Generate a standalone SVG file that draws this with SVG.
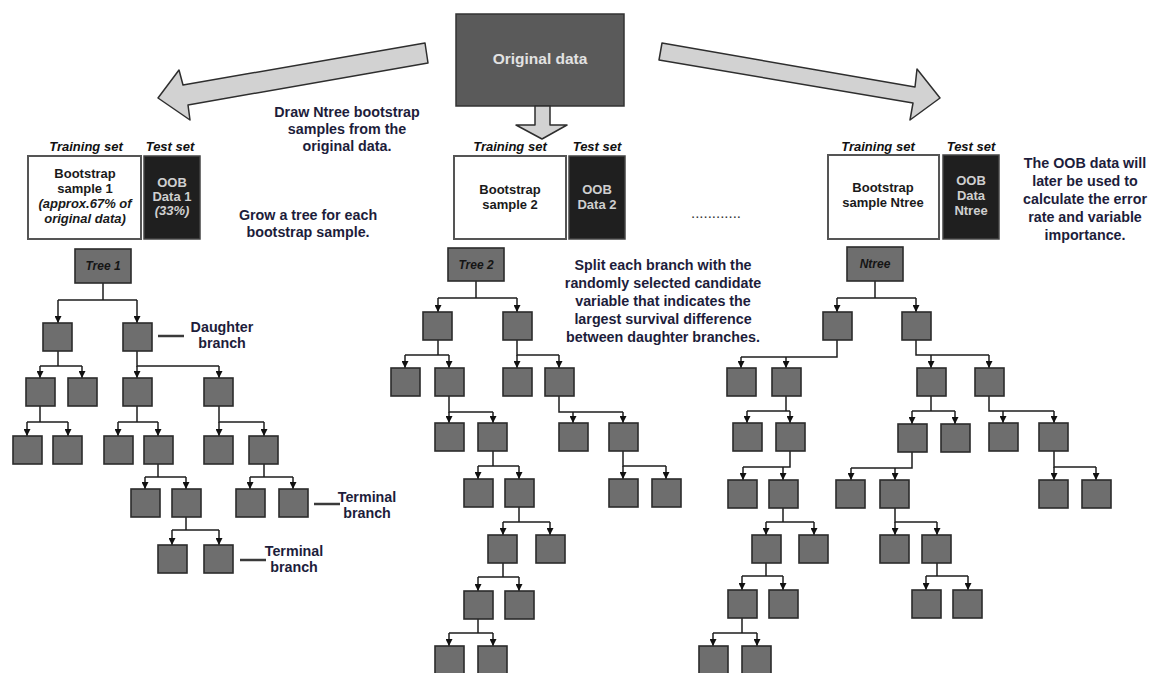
<svg xmlns="http://www.w3.org/2000/svg" width="1149" height="673" viewBox="0 0 1149 673">
<defs>
<style>
.n{fill:#6e6e6e;stroke:#2b2b2b;stroke-width:1.6}
.r{fill:#6e6e6e;stroke:#2b2b2b;stroke-width:1.6}
.c path{fill:none;stroke:#1e1e1e;stroke-width:1.5}
.c path.d{marker-end:url(#ah)}
.bigarrow{fill:#d2d2d2;stroke:#2e2e2e;stroke-width:1.5;stroke-linejoin:round}
.tb{fill:#fff;stroke:#555;stroke-width:2}
.ts{fill:#1f1f1f;stroke:#444;stroke-width:1.5}
.lbl{font-family:"Liberation Sans",Arial,sans-serif;font-weight:bold;font-style:italic;font-size:13px;fill:#111;text-anchor:middle}
.bt{font-family:"Liberation Sans",Arial,sans-serif;font-weight:bold;font-size:13px;fill:#1a1a1a;text-anchor:middle}
.wt{font-family:"Liberation Sans",Arial,sans-serif;font-weight:bold;font-size:13px;fill:#cfcfcf;text-anchor:middle}
.nv{font-family:"Liberation Sans",Arial,sans-serif;font-weight:bold;font-size:14.3px;fill:#1d1d3b;text-anchor:middle}
.tl{font-family:"Liberation Sans",Arial,sans-serif;font-weight:bold;font-style:italic;font-size:12px;fill:#151515;text-anchor:middle}
.bar{stroke:#3a3a3a;stroke-width:2.5}
</style>
<marker id="ah" markerUnits="userSpaceOnUse" markerWidth="7" markerHeight="7" viewBox="0 0 7 7" refX="7" refY="3.5" orient="auto">
<path d="M0,0 L7,3.5 L0,7 z" fill="#111"/>
</marker>
</defs>
<rect width="1149" height="673" fill="#fff"/>

<g id="original-data">
<rect x="456" y="14" width="168" height="92" fill="#5a5a5a" stroke="#333" stroke-width="1.5"/>
<text x="540" y="64" font-family="Liberation Sans,Arial,sans-serif" font-weight="bold" font-size="15.5" fill="#e2e2e2" text-anchor="middle">Original data</text>
</g>

<g id="big-arrows">
<polygon class="bigarrow" points="425,43 428,63 188,105 190,120 158,98 179,70 183,85"/>
<polygon class="bigarrow" points="662,43 659,60 913,103 910,120 940,98 917,69 915,87"/>
<polygon class="bigarrow" points="535,106 550,106 550,125 567,125 542,139 516,125 535,125"/>
</g>

<g id="draw-text">
<text class="nv" x="347" y="117">Draw Ntree bootstrap</text>
<text class="nv" x="347" y="134">samples from the</text>
<text class="nv" x="347" y="151">original data.</text>
</g>

<g id="sample1">
<text class="lbl" x="86" y="151">Training set</text>
<text class="lbl" x="170" y="151">Test set</text>
<rect class="tb" x="28" y="156" width="113" height="83"/>
<rect class="ts" x="144" y="156" width="56" height="83"/>
<text class="bt" x="85" y="178">Bootstrap</text>
<text class="bt" x="85" y="193">sample 1</text>
<text class="bt" x="85" y="208" font-style="italic">(approx.67% of</text>
<text class="bt" x="85" y="223" font-style="italic">original data)</text>
<text class="wt" x="172" y="187">OOB</text>
<text class="wt" x="172" y="201">Data 1</text>
<text class="wt" x="172" y="215" font-style="italic">(33%)</text>
</g>

<g id="sample2">
<text class="lbl" x="510" y="151">Training set</text>
<text class="lbl" x="597" y="151">Test set</text>
<rect class="tb" x="454" y="156" width="112" height="83"/>
<rect class="ts" x="569" y="156" width="56" height="83"/>
<text class="bt" x="510" y="194">Bootstrap</text>
<text class="bt" x="510" y="209">sample 2</text>
<text class="wt" x="597" y="194">OOB</text>
<text class="wt" x="597" y="209">Data 2</text>
</g>

<g id="dots">
<text x="716" y="218" font-family="Liberation Sans,Arial,sans-serif" font-size="15" fill="#333" text-anchor="middle">............</text>
</g>

<g id="sampleN">
<text class="lbl" x="878" y="151">Training set</text>
<text class="lbl" x="971" y="151">Test set</text>
<rect class="tb" x="828" y="155" width="111" height="84"/>
<rect class="ts" x="943" y="155" width="56" height="84"/>
<text class="bt" x="883" y="192">Bootstrap</text>
<text class="bt" x="883" y="207">sample Ntree</text>
<text class="wt" x="971" y="185">OOB</text>
<text class="wt" x="971" y="200">Data</text>
<text class="wt" x="971" y="215">Ntree</text>
</g>

<g id="oob-text">
<text class="nv" x="1085" y="168">The OOB data will</text>
<text class="nv" x="1085" y="186">later be used to</text>
<text class="nv" x="1085" y="204">calculate the error</text>
<text class="nv" x="1085" y="222">rate and variable</text>
<text class="nv" x="1085" y="240">importance.</text>
</g>

<g id="grow-text">
<text class="nv" x="308" y="220">Grow a tree for each</text>
<text class="nv" x="308" y="237">bootstrap sample.</text>
</g>

<g id="split-text">
<text class="nv" x="663" y="270">Split each branch with the</text>
<text class="nv" x="663" y="288">randomly selected candidate</text>
<text class="nv" x="663" y="306">variable that indicates the</text>
<text class="nv" x="663" y="324">largest survival difference</text>
<text class="nv" x="663" y="342">between daughter branches.</text>
</g>

<g id="annotations">
<line class="bar" x1="158" y1="336" x2="184" y2="336"/>
<text class="nv" x="222" y="332">Daughter</text>
<text class="nv" x="222" y="348">branch</text>
<line class="bar" x1="314" y1="504" x2="340" y2="504"/>
<text class="nv" x="367" y="502">Terminal</text>
<text class="nv" x="367" y="518">branch</text>
<line class="bar" x1="240" y1="560" x2="266" y2="560"/>
<text class="nv" x="294" y="556">Terminal</text>
<text class="nv" x="294" y="572">branch</text>
</g>

<g id="connectors" class="c">
<!-- Tree 1 -->
<path d="M103,283V300M58,300H137"/>
<path class="d" d="M58,300V323"/><path class="d" d="M137,300V323"/>
<path d="M58,351V366M40,366H82"/>
<path class="d" d="M40,366V378"/><path class="d" d="M82,366V378"/>
<path d="M137,351V366H219"/>
<path class="d" d="M137,366V378"/><path class="d" d="M219,366V378"/>
<path d="M40,406V422M27,422H68"/>
<path class="d" d="M27,422V436"/><path class="d" d="M68,422V436"/>
<path d="M137,406V422M118,422H158"/>
<path class="d" d="M118,422V436"/><path class="d" d="M158,422V436"/>
<path d="M219,406V422H264"/>
<path class="d" d="M219,422V436"/><path class="d" d="M264,422V436"/>
<path d="M158,464V477M145,477H186"/>
<path class="d" d="M145,477V489"/><path class="d" d="M186,477V489"/>
<path d="M264,464V477M250,477H293"/>
<path class="d" d="M250,477V489"/><path class="d" d="M293,477V489"/>
<path d="M186,517V530M172,530H219"/>
<path class="d" d="M172,530V545"/><path class="d" d="M219,530V545"/>
<!-- Tree 2 -->
<path d="M476,281V298M438,298H517"/>
<path class="d" d="M438,298V312"/><path class="d" d="M517,298V312"/>
<path d="M438,340V355M405,355H449"/>
<path class="d" d="M405,355V368"/><path class="d" d="M449,355V368"/>
<path d="M517,340V355H559"/>
<path class="d" d="M517,355V368"/><path class="d" d="M559,355V368"/>
<path d="M449,396V412H493"/>
<path class="d" d="M449,412V423"/><path class="d" d="M493,412V423"/>
<path d="M559,396V412H623"/>
<path class="d" d="M573,412V423"/><path class="d" d="M623,412V423"/>
<path d="M493,451V466M478,466H519"/>
<path class="d" d="M478,466V479"/><path class="d" d="M519,466V479"/>
<path d="M623,451V466H666"/>
<path class="d" d="M623,466V479"/><path class="d" d="M666,466V479"/>
<path d="M519,507V522M503,522H550"/>
<path class="d" d="M503,522V535"/><path class="d" d="M550,522V535"/>
<path d="M503,563V577M478,577H519"/>
<path class="d" d="M478,577V591"/><path class="d" d="M519,577V591"/>
<path d="M478,619V633M449,633H493"/>
<path class="d" d="M449,633V646"/><path class="d" d="M493,633V646"/>
<!-- Ntree -->
<path d="M875,281V298M837,298H916"/>
<path class="d" d="M837,298V312"/><path class="d" d="M916,298V312"/>
<path d="M837,340V357H741"/>
<path class="d" d="M741,357V368"/><path class="d" d="M786,357V368"/>
<path d="M916,340V355H989"/>
<path class="d" d="M931,355V368"/><path class="d" d="M989,355V368"/>
<path d="M786,396V411M747,411H790"/>
<path class="d" d="M747,411V423"/><path class="d" d="M790,411V423"/>
<path d="M931,396V411M912,411H955"/>
<path class="d" d="M912,411V424"/><path class="d" d="M955,411V424"/>
<path d="M989,396V411H1054"/>
<path class="d" d="M1003,411V423"/><path class="d" d="M1054,411V423"/>
<path d="M790,451V467H743"/>
<path class="d" d="M743,467V480"/><path class="d" d="M783,467V480"/>
<path d="M912,452V468H851"/>
<path class="d" d="M851,468V480"/><path class="d" d="M895,468V480"/>
<path d="M1054,451V467H1096"/>
<path class="d" d="M1054,467V480"/><path class="d" d="M1096,467V480"/>
<path d="M783,508V522M766,522H814"/>
<path class="d" d="M766,522V535"/><path class="d" d="M814,522V535"/>
<path d="M895,508V522H937"/>
<path class="d" d="M895,522V535"/><path class="d" d="M937,522V535"/>
<path d="M766,563V576M742,576H783"/>
<path class="d" d="M742,576V590"/><path class="d" d="M783,576V590"/>
<path d="M937,563V576M926,576H968"/>
<path class="d" d="M926,576V590"/><path class="d" d="M968,576V590"/>
<path d="M742,618V633M713,633H757"/>
<path class="d" d="M713,633V646"/><path class="d" d="M757,633V646"/>
</g>

<g id="tree1">
<g id="tree1-root"><rect class="r" x="75" y="249" width="56" height="34"/><text class="tl" x="103" y="270">Tree 1</text></g>
<g id="t1-nodes">
<rect class="n" x="43" y="323" width="29" height="28"/><rect class="n" x="123" y="323" width="29" height="28"/>
<rect class="n" x="26" y="378" width="29" height="28"/><rect class="n" x="68" y="378" width="29" height="28"/>
<rect class="n" x="123" y="378" width="29" height="28"/><rect class="n" x="204" y="378" width="29" height="28"/>
<rect class="n" x="13" y="436" width="29" height="28"/><rect class="n" x="53" y="436" width="29" height="28"/>
<rect class="n" x="104" y="436" width="29" height="28"/><rect class="n" x="144" y="436" width="29" height="28"/>
<rect class="n" x="204" y="436" width="29" height="28"/><rect class="n" x="249" y="436" width="29" height="28"/>
<rect class="n" x="131" y="489" width="29" height="28"/><rect class="n" x="172" y="489" width="29" height="28"/>
<rect class="n" x="236" y="489" width="29" height="28"/><rect class="n" x="279" y="489" width="29" height="28"/>
<rect class="n" x="158" y="545" width="29" height="28"/><rect class="n" x="204" y="545" width="29" height="28"/>
</g>
</g>

<g id="tree2">
<g id="tree2-root"><rect class="r" x="448" y="248" width="56" height="33"/><text class="tl" x="476" y="269">Tree 2</text></g>
<g id="t2-nodes">
<rect class="n" x="423" y="312" width="29" height="28"/><rect class="n" x="503" y="312" width="29" height="28"/>
<rect class="n" x="391" y="368" width="29" height="28"/><rect class="n" x="435" y="368" width="29" height="28"/>
<rect class="n" x="503" y="368" width="29" height="28"/><rect class="n" x="545" y="368" width="29" height="28"/>
<rect class="n" x="435" y="423" width="29" height="28"/><rect class="n" x="478" y="423" width="29" height="28"/>
<rect class="n" x="559" y="423" width="29" height="28"/><rect class="n" x="609" y="423" width="29" height="28"/>
<rect class="n" x="464" y="479" width="29" height="28"/><rect class="n" x="505" y="479" width="29" height="28"/>
<rect class="n" x="609" y="479" width="29" height="28"/><rect class="n" x="652" y="479" width="29" height="28"/>
<rect class="n" x="488" y="535" width="29" height="28"/><rect class="n" x="536" y="535" width="29" height="28"/>
<rect class="n" x="464" y="591" width="29" height="28"/><rect class="n" x="505" y="591" width="29" height="28"/>
<rect class="n" x="435" y="646" width="29" height="29"/><rect class="n" x="478" y="646" width="29" height="29"/>
</g>
</g>

<g id="treeN">
<g id="treeN-root"><rect class="r" x="847" y="247" width="56" height="34"/><text class="tl" x="875" y="268">Ntree</text></g>
<g id="tN-nodes">
<rect class="n" x="823" y="312" width="29" height="28"/><rect class="n" x="902" y="312" width="29" height="28"/>
<rect class="n" x="727" y="368" width="29" height="28"/><rect class="n" x="772" y="368" width="29" height="28"/>
<rect class="n" x="917" y="368" width="29" height="28"/><rect class="n" x="975" y="368" width="29" height="28"/>
<rect class="n" x="733" y="423" width="29" height="28"/><rect class="n" x="776" y="423" width="29" height="28"/>
<rect class="n" x="898" y="424" width="29" height="28"/><rect class="n" x="941" y="424" width="29" height="28"/>
<rect class="n" x="989" y="423" width="29" height="28"/><rect class="n" x="1039" y="423" width="29" height="28"/>
<rect class="n" x="728" y="480" width="29" height="28"/><rect class="n" x="769" y="480" width="29" height="28"/>
<rect class="n" x="836" y="480" width="29" height="28"/><rect class="n" x="880" y="480" width="29" height="28"/>
<rect class="n" x="1039" y="480" width="29" height="28"/><rect class="n" x="1082" y="480" width="29" height="28"/>
<rect class="n" x="752" y="535" width="29" height="28"/><rect class="n" x="799" y="535" width="29" height="28"/>
<rect class="n" x="880" y="535" width="29" height="28"/><rect class="n" x="922" y="535" width="29" height="28"/>
<rect class="n" x="728" y="590" width="29" height="28"/><rect class="n" x="769" y="590" width="29" height="28"/>
<rect class="n" x="912" y="590" width="29" height="28"/><rect class="n" x="953" y="590" width="29" height="28"/>
<rect class="n" x="699" y="646" width="29" height="29"/><rect class="n" x="742" y="646" width="29" height="29"/>
</g>
</g>
</svg>
